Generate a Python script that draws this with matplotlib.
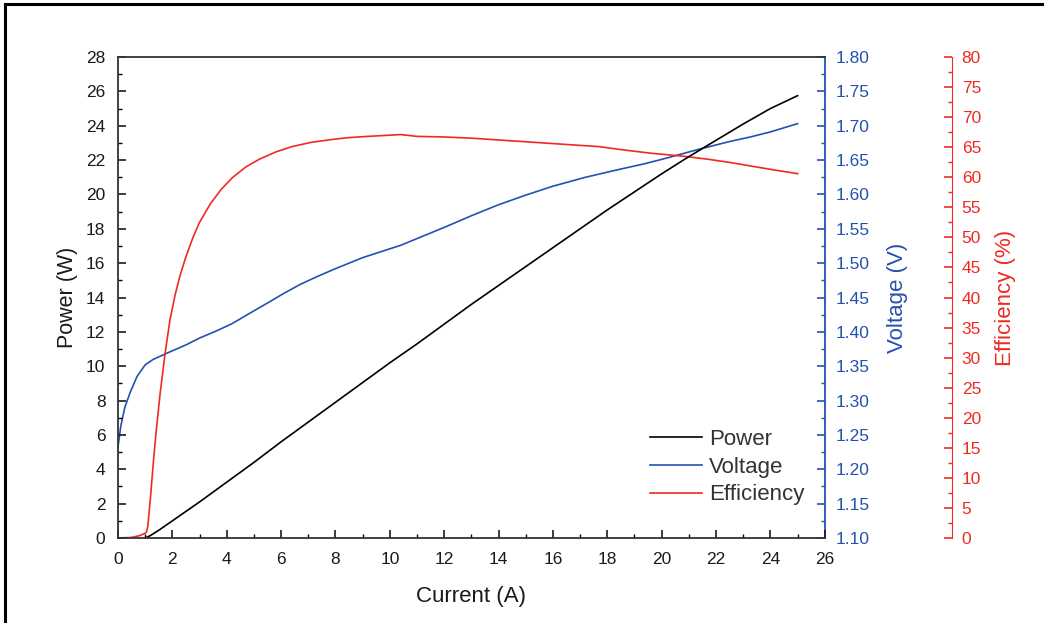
import numpy as np
import matplotlib
matplotlib.use("Agg")
from matplotlib import pyplot as plt
from matplotlib.patches import Rectangle
from matplotlib.ticker import MultipleLocator, FormatStrFormatter

plt.rcParams['font.family'] = ['Liberation Sans', 'DejaVu Sans']

# values
powerCurrent = [1.0, 1.2, 1.5, 2.0, 3.0, 4.0, 5.0, 6.0, 7.0, 8.0, 9.0, 10.0, 11.0, 12.0,
                13.0, 14.0, 15.0, 16.0, 17.0, 18.0, 19.0, 20.0, 21.0, 22.0, 23.0, 24.0, 25.0]
power = [0.0, 0.15, 0.45, 1.0, 2.1, 3.25, 4.4, 5.6, 6.75, 7.9, 9.05, 10.2, 11.3, 12.45,
         13.6, 14.7, 15.8, 16.9, 18.0, 19.1, 20.15, 21.2, 22.2, 23.15, 24.1, 25.0, 25.75]

voltageCurrent = [0.0, 0.1, 0.25, 0.45, 0.7, 1.0, 1.3, 1.8, 2.5, 3.0, 3.6, 4.2, 4.8, 5.5,
                  6.1, 6.7, 7.3, 8.0, 9.0, 10.4, 11.2, 12.0, 13.0, 14.0, 15.0, 16.0, 17.2,
                  18.5, 19.3, 20.0, 21.3, 22.5, 23.3, 24.0, 24.5, 25.0]
voltage = [1.232, 1.262, 1.29, 1.312, 1.335, 1.352, 1.360, 1.369, 1.381, 1.391, 1.401, 1.412,
           1.426, 1.442, 1.456, 1.469, 1.480, 1.492, 1.508, 1.526, 1.539, 1.552, 1.569, 1.585,
           1.599, 1.612, 1.625, 1.637, 1.644, 1.651, 1.665, 1.677, 1.684, 1.691, 1.697, 1.703]

effCurrent = [0.0, 0.5, 0.8, 1.0, 1.05, 1.1, 1.2, 1.3, 1.4, 1.55, 1.73, 1.91, 2.1, 2.28, 2.5,
              2.76, 3.0, 3.4, 3.8, 4.2, 4.7, 5.2, 5.8, 6.4, 7.1, 7.9, 8.5, 9.2, 10.4, 11.0,
              12.0, 13.0, 14.0, 15.0, 16.0, 17.0, 17.7, 18.5, 19.6, 20.8, 21.7, 22.6, 23.5,
              24.3, 25.0]
efficiency = [0.0, 0.1, 0.4, 0.8, 1.0, 2.0, 7.0, 12.5, 17.5, 24.0, 30.6, 36.2, 40.4, 43.6, 46.8,
              50.0, 52.5, 55.6, 58.0, 59.9, 61.7, 63.0, 64.2, 65.1, 65.8, 66.3, 66.6, 66.8,
              67.1, 66.8, 66.7, 66.5, 66.2, 65.9, 65.6, 65.3, 65.1, 64.6, 64.0, 63.5, 63.0,
              62.4, 61.7, 61.1, 60.6]

xTicks = np.arange(0, 27, 2)
powerTicks = np.arange(0, 29, 2)
voltageTicks = np.arange(1.10, 1.801, 0.05)
effTicks = np.arange(0, 81, 5)

blue = '#2451b0'
red = '#f02a22'
dark = '#1a1a1a'

fig = plt.figure(figsize=(10.44, 6.23), dpi=100)
ax = fig.add_axes([0.113, 0.1364, 0.677, 0.7721])
axV = ax.twinx()
axE = ax.twinx()

l1, = ax.plot(powerCurrent, power, color='black', lw=1.2, label='Power')
l2, = axV.plot(voltageCurrent, voltage, color=blue, lw=1.2, label='Voltage')
l3, = axE.plot(effCurrent, efficiency, color=red, lw=1.2, label='Efficiency')

ax.set_xlim(0, 26)
ax.set_ylim(0, 28)
axV.set_ylim(1.10, 1.80)
axE.set_ylim(0, 80)

ax.set_xticks(xTicks)
ax.set_yticks(powerTicks)
ax.xaxis.set_minor_locator(MultipleLocator(1))
ax.yaxis.set_minor_locator(MultipleLocator(1))
axV.set_yticks(voltageTicks)
axV.yaxis.set_major_formatter(FormatStrFormatter('%.2f'))
axV.yaxis.set_minor_locator(MultipleLocator(0.025))
axE.set_yticks(effTicks)
axE.yaxis.set_minor_locator(MultipleLocator(2.5))

ax.tick_params(axis='both', which='major', direction='in', length=6, width=1.2,
               labelsize=12.5, colors=dark)
ax.tick_params(axis='y', which='major', pad=9)
ax.tick_params(axis='x', which='major', pad=10)
ax.tick_params(axis='both', which='minor', direction='in', length=3, width=1)
ax.tick_params(top=False, right=False, which='both')
axV.tick_params(which='major', direction='in', length=6, width=1.2, colors=blue,
                labelsize=12.5, pad=8)
axV.tick_params(which='minor', direction='in', length=3, width=1, colors=blue)
axE.tick_params(which='major', direction='in', length=6, width=1.2, colors=red,
                labelsize=12.5, pad=7)
axE.tick_params(which='minor', direction='in', length=3, width=1, colors=red)

for s in ['left', 'bottom', 'top']:
    ax.spines[s].set_color('#333333')
    ax.spines[s].set_linewidth(1.3)
ax.spines['right'].set_visible(False)
axV.spines['right'].set_color(blue)
axV.spines['right'].set_linewidth(1.3)
for s in ['left', 'bottom', 'top']:
    axV.spines[s].set_visible(False)
    axE.spines[s].set_visible(False)
axE.spines['right'].set_position(('axes', 1.18))
axE.spines['right'].set_color(red)
axE.spines['right'].set_linewidth(0.8)

ax.set_xlabel('Current (A)', fontsize=16, color=dark, labelpad=14)
ax.set_ylabel('Power (W)', fontsize=15.5, color=dark, labelpad=6)
axV.set_ylabel('Voltage (V)', fontsize=16, color=blue, labelpad=12)
axE.set_ylabel('Efficiency (%)', fontsize=16, color=red, labelpad=10)

leg = ax.legend(handles=[l1, l2, l3], loc='upper left', bbox_to_anchor=(0.74, 0.245),
                frameon=False, fontsize=16, handlelength=2.35, handletextpad=0.3,
                labelspacing=0.3, borderaxespad=0)
for t in leg.get_texts():
    t.set_color('#333333')
ax.set_zorder(axE.get_zorder() + 1)
ax.patch.set_visible(False)

# outer frame of the scanned figure
fig.patches.append(Rectangle((5 / 1044, -0.2), 1.2, 0.2 + 1 - 4 / 623,
                             transform=fig.transFigure, fill=False,
                             edgecolor='black', lw=2.2, figure=fig))

fig.savefig('out.png', dpi=100)
